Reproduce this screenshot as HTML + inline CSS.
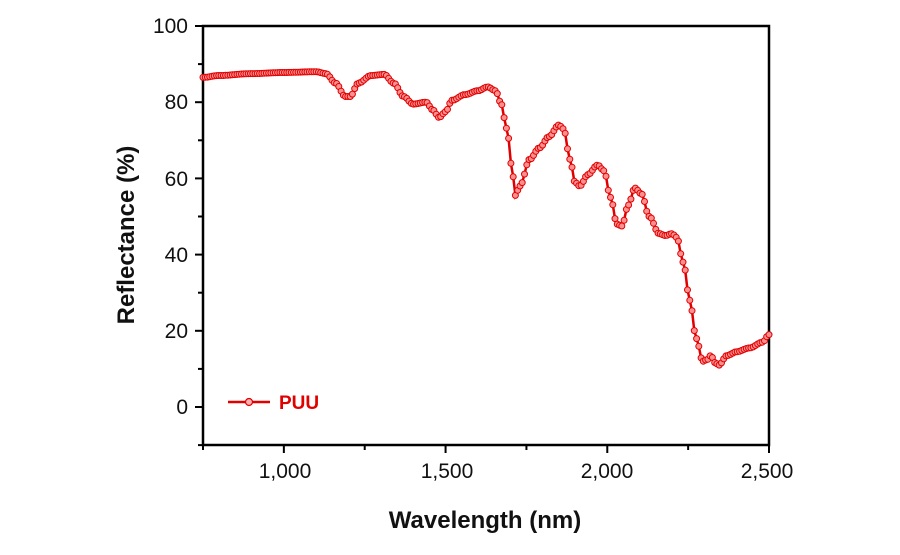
<!DOCTYPE html>
<html><head><meta charset="utf-8"><style>
html,body{margin:0;padding:0;background:#fff;}
svg text{font-family:"Liberation Sans",sans-serif;}
</style></head><body>
<svg id="s" width="900" height="550" xmlns="http://www.w3.org/2000/svg">
<rect x="203" y="26" width="566" height="419" fill="none" stroke="#000" stroke-width="2.5"/>
<g id="ticks" stroke="#000" stroke-width="2"></g>
<g font-size="21" fill="#111" text-anchor="end">
<text x="188" y="33">100</text>
<text x="188" y="109">80</text>
<text x="188" y="186">60</text>
<text x="188" y="262">40</text>
<text x="188" y="338">20</text>
<text x="188" y="414">0</text>
</g>
<g font-size="21" fill="#111" text-anchor="middle">
<text x="285" y="478">1,000</text>
<text x="447" y="478">1,500</text>
<text x="607" y="478">2,000</text>
<text x="767" y="478">2,500</text>
</g>
<text x="485" y="528" font-size="24" font-weight="bold" text-anchor="middle" fill="#111">Wavelength (nm)</text>
<text transform="translate(134,235) rotate(-90)" font-size="24" font-weight="bold" text-anchor="middle" fill="#111">Reflectance (%)</text>
<path id="ln" fill="none" stroke="#e00000" stroke-width="2.5"/>
<g id="mk"></g>
<line x1="228" y1="402" x2="270" y2="402" stroke="#e00000" stroke-width="2.5"/>
<circle cx="249" cy="402" r="3.5" fill="#ffb0b0" stroke="#e00000" stroke-width="1.2"/>
<text x="279" y="409" font-size="19" font-weight="bold" fill="#e00000">PUU</text>
</svg>
<script>
var K=[[750,86.5],[800,87],[900,87.5],[1000,87.8],[1100,88],[1130,87.5],[1160,85],[1190,81.5],[1205,81.5],[1230,85],[1270,87],[1310,87.3],[1340,85],[1370,81.5],[1400,79.5],[1440,80],[1460,78],[1480,76],[1500,77.5],[1520,80.5],[1560,82],[1600,83],[1630,84],[1655,83],[1670,80],[1690,73],[1705,63],[1715,55.5],[1730,58],[1760,65],[1790,68],[1820,71],[1850,74],[1865,73],[1885,65],[1900,59],[1915,58],[1940,61],[1970,63.5],[1990,62],[2010,55],[2030,48],[2045,47.5],[2065,53],[2085,57.5],[2105,56],[2130,50],[2160,45.5],[2180,45],[2200,45.5],[2215,44.5],[2235,38],[2255,28],[2275,18],[2295,12],[2310,12.5],[2320,13.5],[2335,11.5],[2345,11],[2370,13.5],[2400,14.5],[2440,15.5],[2480,17],[2500,19]];
function X(w){return 203+(w-750)*566/1750;}
function Y(v){return 407-v*3.81;}
function f(w){for(var i=0;i<K.length-1;i++){if(w<=K[i+1][0]){var t=(w-K[i][0])/(K[i+1][0]-K[i][0]);var s=(1-Math.cos(Math.PI*t))/2;return K[i][1]+(K[i+1][1]-K[i][1])*s;}}return K[K.length-1][1];}
var d="",m="";
for(var w=750;w<=2500;w+=7){var x=X(w),y=Y(f(w));d+=(w==750?"M":"L")+x.toFixed(1)+","+y.toFixed(1);m+='<circle cx="'+x.toFixed(1)+'" cy="'+y.toFixed(1)+'" r="3" fill="#ff9090" stroke="#e00000" stroke-width="1"/>';}
document.getElementById("ln").setAttribute("d",d);
document.getElementById("mk").innerHTML=m;
var t="";
for(var v=-10;v<=100;v+=10){var y=Y(v);t+='<line x1="'+(v%20==0?195:198)+'" y1="'+y+'" x2="203" y2="'+y+'"/>';}
for(var w=750;w<=2500;w+=250){var x=X(w);t+='<line x1="'+x+'" y1="445" x2="'+x+'" y2="'+(w%500==0?453:450)+'"/>';}
document.getElementById("ticks").innerHTML=t;
</script>
</body></html>
